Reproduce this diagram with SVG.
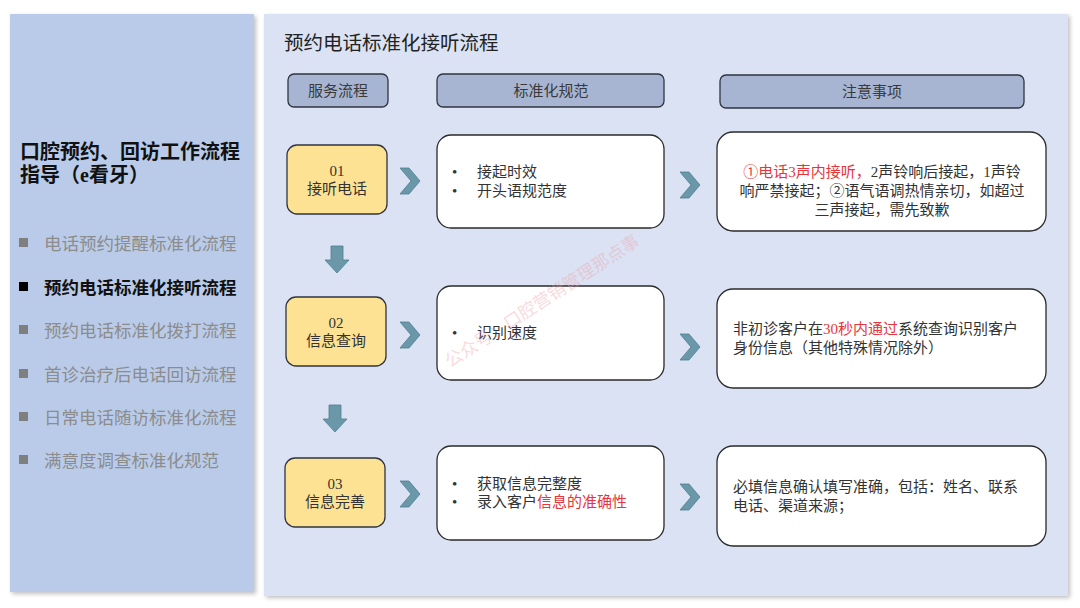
<svg xmlns="http://www.w3.org/2000/svg" width="1080" height="608" viewBox="0 0 1080 608">
<defs>
<style>
text{font-family:"Liberation Serif","Noto Sans CJK SC",serif;}
.hdr{fill:#a7b5d3;stroke:#2f3440;stroke-width:1.3;}
.hdrt{font-size:15px;fill:#3a3a3a;text-anchor:middle;}
.step{fill:#fde293;stroke:#2f3440;stroke-width:1.3;}
.stept{font-size:15px;fill:#333;text-anchor:middle;}
.card{fill:#ffffff;stroke:#2a2a2a;stroke-width:1.3;}
.ct{font-size:15px;fill:#333;}
.red{fill:#e8343a;}
.nav{font-size:17.5px;fill:#8c8c8c;}
.navsq{fill:#7f7f7f;}
.conn{fill:#6a98a8;stroke:#4f7f90;stroke-width:0.8;}
</style>
<filter id="sh" x="-5%" y="-5%" width="110%" height="110%">
<feGaussianBlur in="SourceAlpha" stdDeviation="2"/>
<feOffset dx="2" dy="2"/>
<feComponentTransfer><feFuncA type="linear" slope="0.25"/></feComponentTransfer>
<feMerge><feMergeNode/><feMergeNode in="SourceGraphic"/></feMerge>
</filter>
<path id="chev" d="M0,0 L9,0 L20,13 L9,26 L0,26 L11,13 Z"/>
<path id="down" d="M6,0 L18,0 L18,14 L24,14 L12,27 L0,14 L6,14 Z"/>
</defs>
<rect width="1080" height="608" fill="#ffffff"/>

<g id="left-panel">
<rect x="10" y="14" width="244" height="578" fill="#b9cbe9" filter="url(#sh)"/>
<text x="20" y="159" font-size="20" font-weight="bold" fill="#111">口腔预约、回访工作流程</text>
<text x="20" y="182" font-size="20" font-weight="bold" fill="#111">指导（e看牙）</text>
<rect class="navsq" x="19" y="238" width="9" height="9"/>
<text class="nav" x="44" y="250">电话预约提醒标准化流程</text>
<rect x="19" y="282" width="9" height="9" fill="#000"/>
<text x="44" y="294" font-size="17.5" font-weight="bold" fill="#111">预约电话标准化接听流程</text>
<rect class="navsq" x="19" y="325" width="9" height="9"/>
<text class="nav" x="44" y="337">预约电话标准化拨打流程</text>
<rect class="navsq" x="19" y="369" width="9" height="9"/>
<text class="nav" x="44" y="381">首诊治疗后电话回访流程</text>
<rect class="navsq" x="19" y="412" width="9" height="9"/>
<text class="nav" x="44" y="424">日常电话随访标准化流程</text>
<rect class="navsq" x="19" y="455" width="9" height="9"/>
<text class="nav" x="44" y="467">满意度调查标准化规范</text>
</g>

<g id="main-panel">
<rect x="264" y="14" width="804" height="582" fill="#dae2f3" filter="url(#sh)"/>
<text x="284" y="50" font-size="19.5" fill="#222">预约电话标准化接听流程</text>
</g>

<g id="header-service">
<rect class="hdr" x="288" y="74" width="100" height="33" rx="6"/>
<text class="hdrt" x="338" y="96">服务流程</text>
</g>
<g id="header-standard">
<rect class="hdr" x="437" y="74" width="227" height="33" rx="6"/>
<text class="hdrt" x="551" y="96">标准化规范</text>
</g>
<g id="header-notes">
<rect class="hdr" x="720" y="75" width="304" height="33" rx="6"/>
<text class="hdrt" x="872" y="97">注意事项</text>
</g>

<g id="step-01">
<rect class="step" x="287" y="145" width="100" height="69" rx="10"/>
<text class="stept" x="337" y="176">01</text>
<text class="stept" x="337" y="194">接听电话</text>
</g>
<g id="step-02">
<rect class="step" x="286" y="297" width="100" height="69" rx="10"/>
<text class="stept" x="336" y="328">02</text>
<text class="stept" x="336" y="346">信息查询</text>
</g>
<g id="step-03">
<rect class="step" x="285" y="458" width="100" height="69" rx="10"/>
<text class="stept" x="335" y="489">03</text>
<text class="stept" x="335" y="507">信息完善</text>
</g>

<g id="std-01">
<rect class="card" x="437" y="135" width="227" height="93" rx="14"/>
<text class="ct" x="452" y="177">•</text>
<text class="ct" x="477" y="177">接起时效</text>
<text class="ct" x="452" y="196">•</text>
<text class="ct" x="477" y="196">开头语规范度</text>
</g>
<g id="std-02">
<rect class="card" x="437" y="286" width="227" height="94" rx="14"/>
<text class="ct" x="452" y="338">•</text>
<text class="ct" x="477" y="338">识别速度</text>
</g>
<g id="std-03">
<rect class="card" x="437" y="446" width="227" height="94" rx="14"/>
<text class="ct" x="452" y="489">•</text>
<text class="ct" x="477" y="489">获取信息完整度</text>
<text class="ct" x="452" y="507">•</text>
<text class="ct" x="477" y="507">录入客户<tspan class="red">信息的准确性</tspan></text>
</g>

<g id="note-01">
<rect class="card" x="717" y="132" width="329" height="99" rx="16"/>
<text class="ct" x="882" y="177" text-anchor="middle"><tspan class="red">①电话3声内接听，</tspan>2声铃响后接起，1声铃</text>
<text class="ct" x="882" y="196" text-anchor="middle">响严禁接起；②语气语调热情亲切，如超过</text>
<text class="ct" x="882" y="215" text-anchor="middle">三声接起，需先致歉</text>
</g>
<g id="note-02">
<rect class="card" x="717" y="289" width="329" height="99" rx="16"/>
<text class="ct" x="733" y="334">非初诊客户在<tspan class="red">30秒内通过</tspan>系统查询识别客户</text>
<text class="ct" x="733" y="353">身份信息（其他特殊情况除外）</text>
</g>
<g id="note-03">
<rect class="card" x="717" y="446" width="329" height="100" rx="16"/>
<text class="ct" x="733" y="492">必填信息确认填写准确，包括：姓名、联系</text>
<text class="ct" x="733" y="511">电话、渠道来源；</text>
</g>

<g id="connectors">
<use href="#chev" class="conn" x="400" y="168"/>
<use href="#chev" class="conn" x="400" y="322"/>
<use href="#chev" class="conn" x="400" y="481"/>
<use href="#chev" class="conn" x="680" y="172"/>
<use href="#chev" class="conn" x="680" y="334"/>
<use href="#chev" class="conn" x="680" y="484"/>
<use href="#down" class="conn" x="325" y="246"/>
<use href="#down" class="conn" x="323" y="405"/>
</g>

<text x="0" y="0" font-size="17.5" fill="#f0a0a8" fill-opacity="0.4" transform="translate(450,368) rotate(-33)" font-family="Noto Sans CJK SC, sans-serif">公众号：口腔营销管理那点事</text>
</svg>
